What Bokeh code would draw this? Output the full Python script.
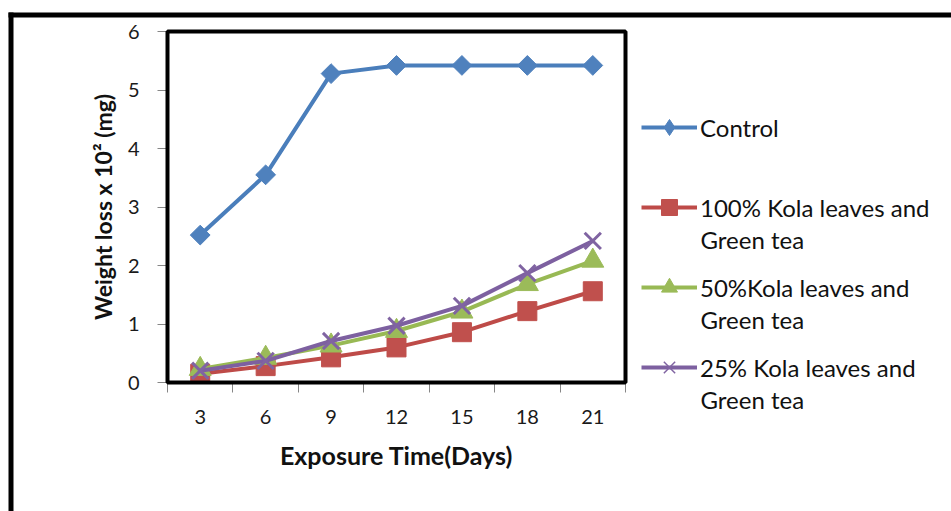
import math
from bokeh.plotting import figure
from bokeh.models import (FixedTicker, Legend, LegendItem, Label, BoxAnnotation, Range1d)
from bokeh.embed import file_html
from bokeh.resources import INLINE

# ---- data ----
days = [3, 6, 9, 12, 15, 18, 21]
control = [2.52, 3.55, 5.28, 5.42, 5.42, 5.42, 5.42]
kola100 = [0.15, 0.28, 0.43, 0.60, 0.86, 1.22, 1.56]
kola50 = [0.23, 0.42, 0.63, 0.88, 1.21, 1.68, 2.08]
kola25 = [0.20, 0.37, 0.71, 0.97, 1.31, 1.87, 2.42]
label_line1 = ["Control", "100% Kola leaves and", "50%Kola leaves and", "25% Kola leaves and"]
label_line2 = ["", "Green tea", "Green tea", "Green tea"]
y_ticks = [0, 1, 2, 3, 4, 5, 6]
x_label = "Exposure Time(Days)"
y_label = "Weight loss x 10\u00b2 (mg)"

step = days[1] - days[0]
boundaries = [d - step / 2 for d in days] + [days[-1] + step / 2]
Y0, Y1 = y_ticks[0], y_ticks[-1]

# ---- layout (pixels) ----
W, H = 951, 511
BOX_L, BOX_R, BOX_T, BOX_B = 167, 625, 31, 382
kx = (BOX_R - BOX_L) / (boundaries[-1] - boundaries[0])
ky = (BOX_B - BOX_T) / (Y1 - Y0)
x_start = boundaries[0] - BOX_L / kx
x_end = boundaries[-1] + (W - BOX_R) / kx
y_start = Y0 - (H - BOX_B) / ky
y_end = Y1 + BOX_T / ky


def px_x(px):
    return x_start + px / kx


def px_y(py):
    return y_end - py / ky


FONT = "Lato"

p = figure(width=W, height=H,
           x_range=Range1d(x_start, x_end), y_range=Range1d(y_start, y_end),
           output_backend="svg", toolbar_location=None,
           min_border=0, min_border_left=0, min_border_right=0,
           min_border_top=0, min_border_bottom=0)
p.title.visible = False
p.background_fill_color = "white"
p.border_fill_color = "white"
p.xgrid.visible = False
p.ygrid.visible = False
p.outline_line_color = None

axis_grey = "#868686"
# x axis
xa = p.xaxis[0]
xa.fixed_location = Y0
xa.bounds = (boundaries[0], boundaries[-1])
xa.ticker = FixedTicker(ticks=days, minor_ticks=boundaries)
xa.major_tick_out = 0
xa.major_tick_in = 0
xa.minor_tick_out = 10
xa.minor_tick_in = 0
xa.axis_line_color = axis_grey
xa.minor_tick_line_color = axis_grey
xa.major_label_text_font = FONT
xa.major_label_text_font_size = "20px"
xa.major_label_text_color = "#1a1a1a"
xa.major_label_standoff = 17
xa.axis_label = x_label
xa.axis_label_text_font = FONT
xa.axis_label_text_font_style = "bold"
xa.axis_label_text_font_size = "25px"
xa.axis_label_text_color = "#111111"
xa.axis_label_standoff = 13

# y axis
ya = p.yaxis[0]
ya.fixed_location = boundaries[0]
ya.bounds = (Y0, Y1)
ya.ticker = FixedTicker(ticks=y_ticks)
ya.major_tick_out = 10
ya.major_tick_in = 0
ya.minor_tick_line_color = None
ya.axis_line_color = axis_grey
ya.major_tick_line_color = axis_grey
ya.major_label_text_font = FONT
ya.major_label_text_font_size = "20px"
ya.major_label_text_color = "#1a1a1a"
ya.major_label_standoff = 18
ya.axis_label = y_label
ya.axis_label_text_font = FONT
ya.axis_label_text_font_style = "bold"
ya.axis_label_text_font_size = "23px"
ya.axis_label_text_color = "#111111"
ya.axis_label_standoff = 8

# plot-area box
p.add_layout(BoxAnnotation(left=boundaries[0], right=boundaries[-1], bottom=Y0, top=Y1,
                           fill_alpha=0, line_color="black", line_alpha=1, line_width=4))

# (values, line colour, marker colour, plot marker, size, angle, marker line width, legend marker)
series = [
    (control, "#4A7EBB", "#4F81BD", "square", 14, math.pi / 4, 1, "diamond"),
    (kola100, "#BE4B48", "#C0504D", "square", 19, 0, 1, "square"),
    (kola50, "#98B954", "#9BBB59", "triangle", 22, 0, 1, "triangle"),
    (kola25, "#7D60A0", "#8064A2", "x", 23, 0, 3, "x"),
]

# legend swatch renderers sit outside the visible range so only the legend shows them
off_x = [x_end + 1000, x_end + 1001]
off_y = [y_end + 1000, y_end + 1001]

items = []
for (vals, lc, mc, marker, size, ang, mlw, lmarker), name in zip(series, label_line1):
    p.line(days, vals, line_color=lc, line_width=4)
    p.scatter(days, vals, marker=marker, size=size, angle=ang,
              fill_color=mc, line_color=mc, line_width=mlw)
    l_line = p.line(off_x, off_y, line_color=lc, line_width=4)
    l_mark = p.scatter(off_x, off_y, marker=lmarker, size=15, fill_color=mc, line_color=mc,
                       line_width=1.5 if lmarker == "x" else 1)
    items.append(LegendItem(label=name, renderers=[l_line, l_mark]))

ROW_H, ROW_PITCH = 40, 80
FIRST_ROW = 127
LEG_L = 641
LEG_TOP = FIRST_ROW - ROW_H / 2
leg_h = len(items) * ROW_H + (len(items) - 1) * (ROW_PITCH - ROW_H)
legend = Legend(items=items, location=(LEG_L, H - (LEG_TOP + leg_h)), orientation="vertical",
                padding=0, margin=0, spacing=ROW_PITCH - ROW_H, label_height=ROW_H,
                glyph_height=ROW_H, glyph_width=56, label_standoff=3,
                label_text_font=FONT, label_text_font_size="24px", label_text_color="#111111",
                border_line_alpha=0, background_fill_alpha=0)
p.add_layout(legend)

for i, t in enumerate(label_line2):
    if t:
        row_center = FIRST_ROW + i * ROW_PITCH
        p.add_layout(Label(x=px_x(700), y=px_y(row_center + 32), text=t,
                           text_font=FONT, text_font_size="24px", text_color="#111111",
                           text_align="left", text_baseline="middle"))

# outer frame of the figure panel
p.add_layout(BoxAnnotation(left=px_x(8), right=px_x(W + 10), top=px_y(12), bottom=px_y(17),
                           fill_color="black", fill_alpha=1, line_color=None))
p.add_layout(BoxAnnotation(left=px_x(8), right=px_x(13), top=px_y(12), bottom=px_y(H + 10),
                           fill_color="black", fill_alpha=1, line_color=None))

open("out.html", "w").write(file_html(p, INLINE))
